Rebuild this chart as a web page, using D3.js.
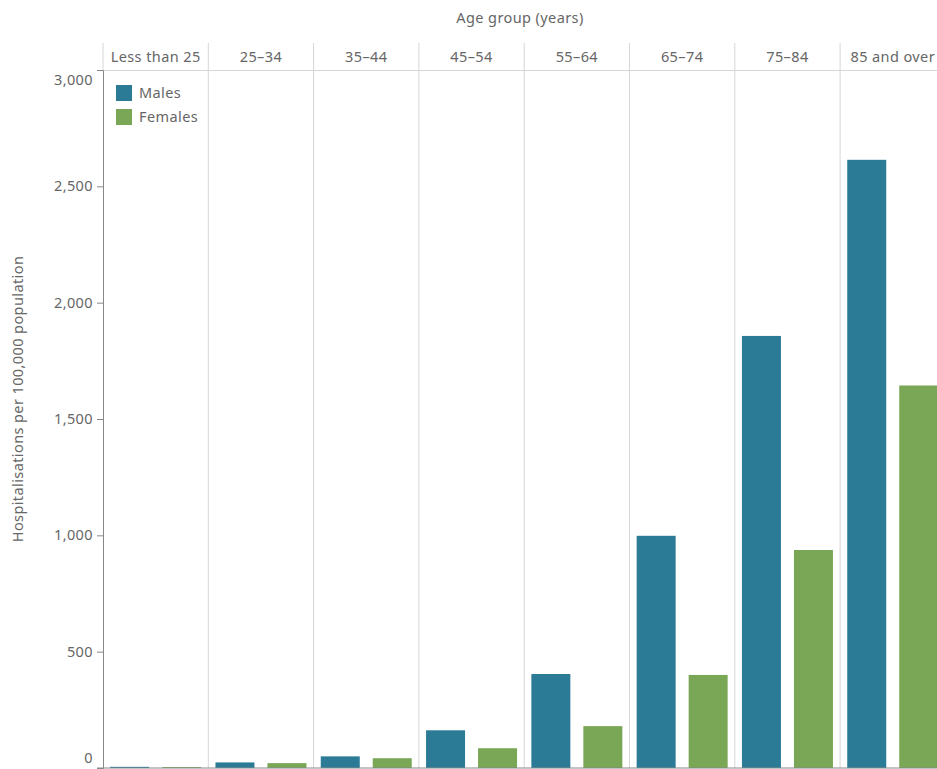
<!DOCTYPE html>
<html>
<head>
<meta charset="utf-8">
<script src="https://cdn.jsdelivr.net/npm/d3@7"></script>
<style>
  html, body { margin: 0; padding: 0; background: #fff; }
  svg { display: block; }
  text { font-family: "Noto Sans", "Open Sans", sans-serif; fill: #666; letter-spacing: 0.4px; }
</style>
</head>
<body>
<svg id="chart" width="937" height="769"></svg>
<script>
const ageGroups = ["Less than 25", "25–34", "35–44", "45–54", "55–64", "65–74", "75–84", "85 and over"];
const seriesNames = ["Males", "Females"];
const males   = [5, 24, 50, 162, 404, 998, 1857, 2614];
const females = [4, 21, 42, 85, 180, 400, 937, 1644];
const yTicks = [0, 500, 1000, 1500, 2000, 2500, 3000];
const colors = ["#2b7b97", "#7aa756"];

const svg = d3.select("#chart");
const mLeft = 103, mTop = 70, mBottom = 768;
const panelW = 105.3;
const fs = "14.5px";

const x0 = d3.scaleBand().domain(ageGroups).range([mLeft, mLeft + panelW * ageGroups.length]).padding(0);
const x1 = d3.scaleBand().domain(seriesNames).range([0, panelW]).paddingInner(0.25).paddingOuter(0.1375);
const y = d3.scaleLinear().domain([0, 3000]).range([mBottom, mTop]);
const color = d3.scaleOrdinal().domain(seriesNames).range(colors);

// Panel dividers
svg.append("g").selectAll("line").data(ageGroups.slice(1)).join("line")
  .attr("x1", d => x0(d)).attr("x2", d => x0(d))
  .attr("y1", 43).attr("y2", mBottom)
  .attr("stroke", "#d6d6d6").attr("stroke-width", 1);
svg.append("line").attr("x1", mLeft).attr("x2", mLeft).attr("y1", 43).attr("y2", mTop)
  .attr("stroke", "#d6d6d6");

// Header separator
svg.append("line").attr("x1", mLeft).attr("x2", 937).attr("y1", mTop + 0.5).attr("y2", mTop + 0.5)
  .attr("stroke", "#d6d6d6");

// Header labels
svg.append("g").selectAll("text").data(ageGroups).join("text")
  .attr("x", d => x0(d) + panelW / 2)
  .attr("y", 62)
  .attr("text-anchor", "middle")
  .style("font-size", fs)
  .text(d => d);

svg.append("text").attr("x", (mLeft + 937) / 2).attr("y", 23)
  .attr("text-anchor", "middle").style("font-size", fs)
  .text("Age group (years)");

// Bars
const rows = ageGroups.map((g, i) => ({ group: g, values: [
  { key: "Males", value: males[i] }, { key: "Females", value: females[i] }] }));
svg.append("g").selectAll("g").data(rows).join("g")
  .attr("transform", d => `translate(${x0(d.group)},0)`)
  .selectAll("rect").data(d => d.values).join("rect")
  .attr("x", d => x1(d.key))
  .attr("width", x1.bandwidth())
  .attr("y", d => y(d.value))
  .attr("height", d => y(0) - y(d.value))
  .attr("fill", d => color(d.key));

// Y axis
const yAxis = d3.axisLeft(y).tickValues(yTicks).tickSize(6).tickPadding(4).tickFormat(d3.format(","));
const ya = svg.append("g").attr("transform", `translate(${mLeft},0)`).call(yAxis);
ya.select(".domain").attr("stroke", "#888");
ya.selectAll(".tick line").attr("stroke", "#888");
ya.selectAll(".tick text").style("font-size", fs).style("font-family", "'Noto Sans', sans-serif").attr("fill", "#666");
ya.selectAll(".tick text").filter(d => d === 3000).attr("dy", "1.0em");
ya.selectAll(".tick text").filter(d => d === 0).attr("dy", "-0.4em");

// Bottom line
svg.append("line").attr("x1", mLeft - 6).attr("x2", 937).attr("y1", mBottom).attr("y2", mBottom)
  .attr("stroke", "#888");

// Y title
svg.append("text").attr("transform", `translate(23,399) rotate(-90)`)
  .attr("text-anchor", "middle").style("font-size", fs)
  .text("Hospitalisations per 100,000 population");

// Legend
const lg = svg.append("g").attr("transform", "translate(116,85)");
const li = lg.selectAll("g").data(seriesNames).join("g")
  .attr("transform", (d, i) => `translate(0,${i * 24})`);
li.append("rect").attr("width", 16).attr("height", 16).attr("fill", d => color(d));
li.append("text").attr("x", 23).attr("y", 13).style("font-size", fs).text(d => d);
</script>
</body>
</html>
